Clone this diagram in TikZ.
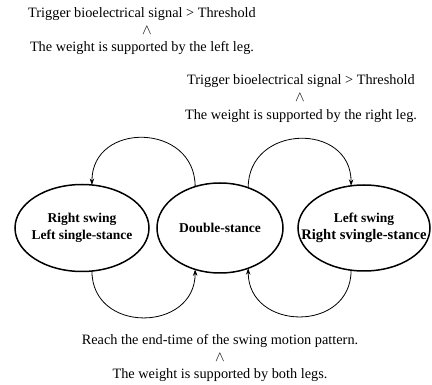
\documentclass[tikz,border=0pt]{standalone}
\usepackage{fontspec}
\setmainfont{Liberation Serif}
\usetikzlibrary{shapes.geometric,arrows.meta}
\newcommand{\mkzline}[1]{\makebox[0pt][c]{#1}}
\begin{document}
\begin{tikzpicture}[x=1pt,y=-1pt,
  state/.style={ellipse,draw,line width=1.5pt,inner sep=0pt,outer sep=0pt,align=center,
    font=\fontsize{13.5}{16.5}\selectfont\bfseries},
  cond/.style={font=\fontsize{14.3}{17}\selectfont,inner sep=0pt},
  trans/.style={line width=0.8pt,-{Stealth[length=6.5pt,width=4.5pt]}}]
\useasboundingbox (0,0) rectangle (432,385);
% states
\node[state,minimum width=134pt,minimum height=87pt] (L) at (82,228)
  {\mkzline{Right swing}\\\mkzline{Left single-stance}};
\node[state,minimum width=126pt,minimum height=90pt] (M) at (220,228)
  {\mkzline{Double-stance}};
\node[state,minimum width=132pt,minimum height=86pt] (R) at (364,228)
  {\mkzline{Left swing}\\\mkzline{\fontsize{14.6}{16.5}\selectfont Right svingle-stance}};
% conditions
\node[cond] (tl1) at (142,14) {Trigger bioelectrical signal > Threshold};
\node[cond] (tla) at (147,31) {$\wedge$};
\node[cond] (tl2) at (142,48) {The weight is supported by the left leg.};
\node[cond] (tr1) at (301,81) {Trigger bioelectrical signal > Threshold};
\node[cond] (tra) at (300,98) {$\wedge$};
\node[cond] (tr2) at (301,116) {The weight is supported by the right leg.};
\node[cond] (b1) at (220,341) {Reach the end-time of the swing motion pattern.};
\node[cond] (ba) at (220,358) {$\wedge$};
\node[cond] (b2) at (220,375) {The weight is supported by both legs.};
% transitions
\draw[trans] (M.121) .. controls +(0,-64) and +(0,-64) .. (L.77);
\draw[trans] (M.55) .. controls +(0,-64) and +(0,-64) .. (R.107);
\draw[trans] (L.-77) .. controls +(0,63) and +(0,63) .. (M.-121);
\draw[trans] (R.-107) .. controls +(0,63) and +(0,63) .. (M.-55);
\end{tikzpicture}
\end{document}
